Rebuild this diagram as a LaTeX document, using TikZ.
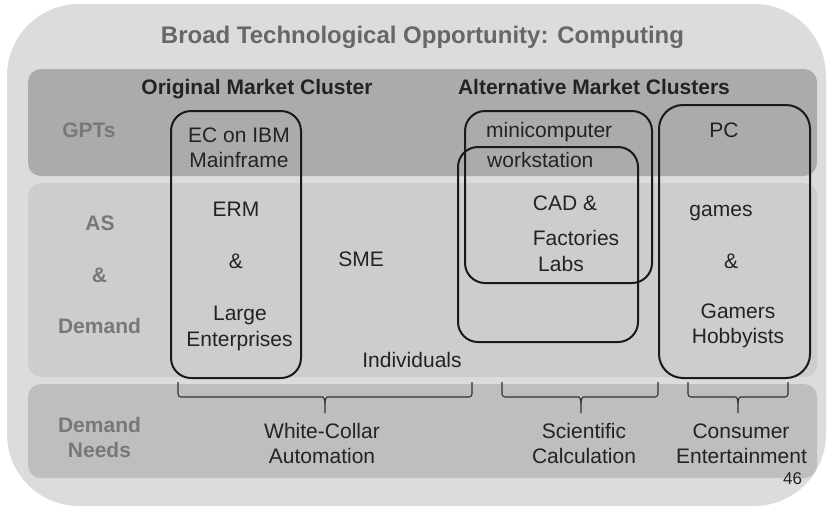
\documentclass[tikz,border=0pt]{standalone}
\usepackage{fontspec}
\setmainfont{Liberation Sans}
\definecolor{outerbg}{HTML}{DCDCDE}
\definecolor{gptband}{HTML}{ABABAD}
\definecolor{asband}{HTML}{CDCDCF}
\definecolor{dnband}{HTML}{BEBEC0}
\definecolor{txtdark}{HTML}{232323}
\definecolor{lblgray}{HTML}{787878}
\definecolor{ttlgray}{HTML}{676767}
\definecolor{boxline}{HTML}{1A1A1A}
\definecolor{braceline}{HTML}{333333}
\newcommand\mybrace[3]{%
  \draw[bracel] (#1,382) [rounded corners=3pt] -- (#1,397) -- (#3-5,397) [sharp corners]
     .. controls (#3-1.5,397) and (#3,399) .. (#3,404) -- (#3,413);
  \draw[bracel] (#2,382) [rounded corners=3pt] -- (#2,397) -- (#3+5,397) [sharp corners]
     .. controls (#3+1.5,397) and (#3,399) .. (#3,404);}
\begin{document}
\begin{tikzpicture}[x=1pt,y=-1pt,
  txt/.style={anchor=base, inner sep=0pt, text=txtdark, font=\fontsize{21}{25}\selectfont},
  hdr/.style={anchor=base, inner sep=0pt, text=txtdark, font=\fontsize{21}{25}\selectfont\bfseries},
  lbl/.style={anchor=base, inner sep=0pt, text=lblgray, font=\fontsize{21}{25}\selectfont\bfseries},
  ttl/.style={anchor=base, inner sep=0pt, text=ttlgray, font=\fontsize{24}{28}\selectfont\bfseries},
  band/.style={inner sep=0pt, rounded corners=13pt, minimum width=789pt},
  cbox/.style={draw=boxline, line width=2pt, rounded corners=20pt, inner sep=0pt},
  bracel/.style={draw=braceline, line width=1.1pt},
]
\useasboundingbox (0,0) rectangle (827,507);
% backgrounds
\node[inner sep=0pt, fill=outerbg, rounded corners=72pt, minimum width=819pt, minimum height=502pt] (outer) at (416.5,255) {};
\node[band, fill=gptband, minimum height=107pt] (gpt) at (422.5,122.5) {};
\node[band, fill=asband, minimum height=194pt] (as) at (422.5,280) {};
\node[band, fill=dnband, minimum height=94pt] (dn) at (422.5,431) {};
% title and headers
\node[ttl] (title) at (422.5,43) {Broad Technological Opportunity: Computing};
\node[hdr] (orig) at (257,94) {Original Market Cluster};
\node[hdr] (alt) at (594,94) {Alternative Market Clusters};
% row labels
\node[lbl] (lgpt) at (89,137) {GPTs};
\node[lbl] (las) at (100,230) {AS};
\node[lbl] (lamp) at (99.5,282) {\&};
\node[lbl] (ldem) at (99.5,333) {Demand};
\node[lbl] (ldn1) at (99.5,432) {Demand};
\node[lbl] (ldn2) at (99.5,457) {Needs};
% cluster boxes
\node[cbox, minimum width=130pt, minimum height=267pt] (box1) at (236,244.5) {};
\node[cbox, minimum width=187pt, minimum height=172pt] (boxmini) at (558.5,197) {};
\node[cbox, minimum width=180pt, minimum height=195pt] (boxws) at (548,244.5) {};
\node[cbox, rounded corners=24pt, minimum width=151pt, minimum height=273pt] (boxpc) at (734.5,241.5) {};
% original cluster texts
\node[txt] (ec1) at (239,142) {EC on IBM};
\node[txt] (ec2) at (239,167) {Mainframe};
\node[txt] (erm) at (236,216) {ERM};
\node[txt] (amp1) at (236,268) {\&};
\node[txt] (large1) at (240,320) {Large};
\node[txt] (large2) at (239.5,346) {Enterprises};
\node[txt] (sme) at (361,266) {SME};
\node[txt] (indiv) at (412,367) {Individuals};
% alternative cluster texts
\node[txt, anchor=base west] (mini) at (486,137) {minicomputer};
\node[txt, anchor=base west] (ws) at (487,167) {workstation};
\node[txt] (cad) at (565,210) {CAD \&};
\node[txt] (fact) at (576,245) {Factories};
\node[txt] (labs) at (561,271) {Labs};
\node[txt] (pc) at (724,137) {PC};
\node[txt] (games) at (721,216) {games};
\node[txt] (amp2) at (731,268) {\&};
\node[txt] (gam1) at (738,318) {Gamers};
\node[txt] (gam2) at (738,343) {Hobbyists};
% demand needs
\node[txt] (wc1) at (322,438) {White-Collar};
\node[txt] (wc2) at (322,463) {Automation};
\node[txt] (sc1) at (584,438) {Scientific};
\node[txt] (sc2) at (584,463) {Calculation};
\node[txt] (ce1) at (741,438) {Consumer};
\node[txt] (ce2) at (741.5,463) {Entertainment};
\node[txt, font=\fontsize{17}{20}\selectfont] (pg) at (792.5,484) {46};
% braces
\mybrace{178}{472}{325}
\mybrace{502}{658}{581}
\mybrace{688}{788}{738}
\end{tikzpicture}
\end{document}
